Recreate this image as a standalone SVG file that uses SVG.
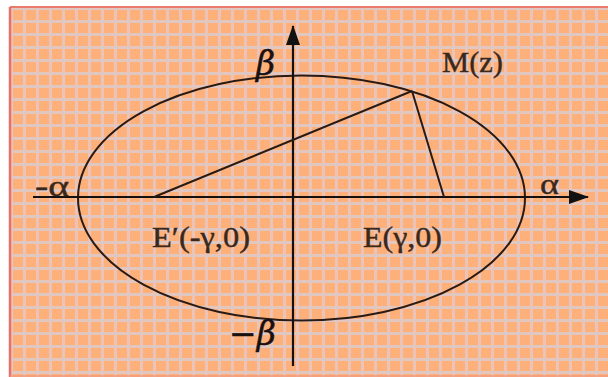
<svg xmlns="http://www.w3.org/2000/svg" width="608" height="377" viewBox="0 0 608 377">
<defs>
<pattern id="grid" x="10" y="7" width="13" height="13" patternUnits="userSpaceOnUse">
<rect width="13" height="13" fill="#fdb07a"/>
<rect x="0" y="0" width="3" height="13" fill="#eac4b8"/>
<rect x="0" y="0" width="13" height="3" fill="#e2c6c0"/>
</pattern>
<marker id="arr" viewBox="0 0 20 14" refX="19" refY="7" markerWidth="20" markerHeight="14" markerUnits="userSpaceOnUse" orient="auto">
<path d="M0,0 L20,7 L0,14 Z" fill="#111"/>
</marker>
<style>
.ln{stroke:#2a1a14;stroke-width:2;fill:none}
.ax{stroke:#151010;stroke-width:2.2;fill:none}
.t{font-family:"Liberation Serif","DejaVu Serif",serif;fill:#3a281c;font-size:29px;stroke:#3a281c;stroke-width:0.4}
.g{font-family:"DejaVu Serif","Liberation Serif",serif;font-style:italic;fill:#1a1010;font-size:33px;stroke:#1a1010;stroke-width:0.5}
</style>
</defs>
<rect x="0" y="0" width="608" height="377" fill="#ffffff"/>
<rect x="10" y="7" width="600" height="372" fill="url(#grid)"/>
<line x1="10" y1="7" x2="608" y2="7" stroke="#ec7a6c" stroke-width="2"/>
<line x1="10" y1="7" x2="10" y2="377" stroke="#e8706a" stroke-width="2.5"/>
<line x1="10" y1="376" x2="608" y2="376" stroke="#f39a7e" stroke-width="1.5"/>
<g id="ellipse">
<ellipse cx="301.5" cy="198" rx="223.5" ry="122.5" class="ln"/>
</g>
<g id="connectors">
<line x1="33" y1="197" x2="588" y2="197" class="ax" marker-end="url(#arr)"/>
<line x1="293" y1="366" x2="293" y2="26" class="ax" marker-end="url(#arr)"/>
<line x1="154" y1="197" x2="412" y2="91" class="ln"/>
<line x1="412" y1="91" x2="444" y2="197" class="ln"/>
</g>
<g id="labels">
<text class="g" x="256" y="75">β</text>
<text class="t" x="442" y="72" textLength="61" lengthAdjust="spacingAndGlyphs">M(z)</text>
<text class="t" x="35" y="196" textLength="34" lengthAdjust="spacingAndGlyphs">-α</text>
<text class="t" x="540" y="194" textLength="19" lengthAdjust="spacingAndGlyphs">α</text>
<text class="t" x="152" y="247" textLength="98" lengthAdjust="spacingAndGlyphs">E′(-γ,0)</text>
<text class="t" x="363" y="247" textLength="79" lengthAdjust="spacingAndGlyphs">E(γ,0)</text>
<text class="g" x="229" y="345">−β</text>
</g>
</svg>
